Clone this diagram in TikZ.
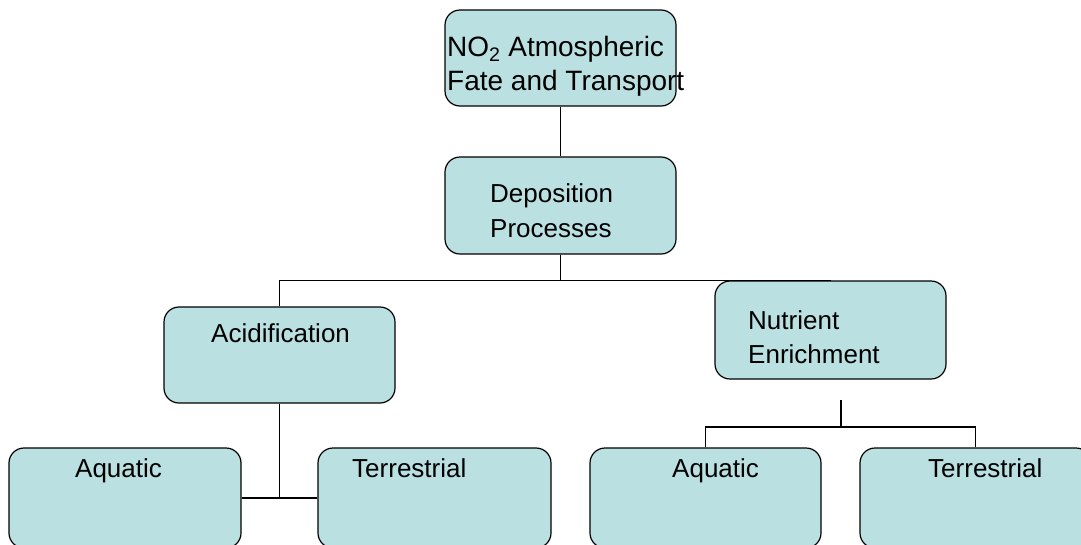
\documentclass[tikz,border=0pt]{standalone}
\usepackage{fontspec}
\setmainfont{Liberation Sans}
\definecolor{boxfill}{RGB}{186,224,226}
\begin{document}
\begin{tikzpicture}[x=1pt, y=-1pt,
        box/.style={draw=black, line width=1.2pt, fill=boxfill, rounded corners=15pt,
            minimum width=231pt, minimum height=96pt, inner sep=0pt},
        txt/.style={anchor=base west, inner sep=0pt, font=\fontsize{26}{31}\selectfont},
        link/.style={draw=black, line width=1.2pt}]
        \useasboundingbox (0,0) rectangle (1081,544);
        \clip (0,0) rectangle (1081,544);

        \node[box] (fate) at (560.5,58) {};
        \node[box, minimum height=97pt] (depo) at (560.5,205.5) {};
        \node[box] (acid) at (279.5,355) {};
        \node[box, minimum height=98pt] (nutr) at (830.5,330) {};
        \node[box, minimum width=232pt, minimum height=100pt] (aquaL) at (125,498) {};
        \node[box, minimum width=233pt, minimum height=100pt] (terrL) at (434.5,498) {};
        \node[box, minimum height=100pt] (aquaR) at (705.5,498) {};
        \node[box, minimum height=100pt] (terrR) at (975.5,498) {};

        \node[txt, font=\fontsize{28}{33}\selectfont] (fateA) at (447,56) {NO\textsubscript{2} Atmospheric};
        \node[txt, font=\fontsize{28}{33}\selectfont] (fateB) at (447,90) {Fate and Transport};
        \node[txt] (depoA) at (490,202) {Deposition};
        \node[txt] (depoB) at (490,237) {Processes};
        \node[txt] (acidA) at (211,342) {Acidification};
        \node[txt] (nutrA) at (748,329) {Nutrient};
        \node[txt] (nutrB) at (748,363) {Enrichment};
        \node[txt] (aquaLA) at (75,477) {Aquatic};
        \node[txt] (terrLA) at (352,477) {Terrestrial};
        \node[txt] (aquaRA) at (672,477) {Aquatic};
        \node[txt] (terrRA) at (928,477) {Terrestrial};

        \coordinate (split) at (depo.south |- nutr.north);
        \coordinate (nstub) at (841,400);
        \coordinate (nbranch) at (841,427);

        \draw[link] (fate.south) -- (depo.north);
        \draw[link] (depo.south) -- (split);
        \draw[link] (acid.north) |- (nutr.north);
        \draw[link] (acid.south) -- (acid.south |- aquaL.east);
        \draw[link] (aquaL.east) -- (terrL.west);
        \draw[link] (nstub) -- (nbranch);
        \draw[link] (aquaR.north) |- (nbranch) -| (terrR.north);
    \end{tikzpicture}
\end{document}
